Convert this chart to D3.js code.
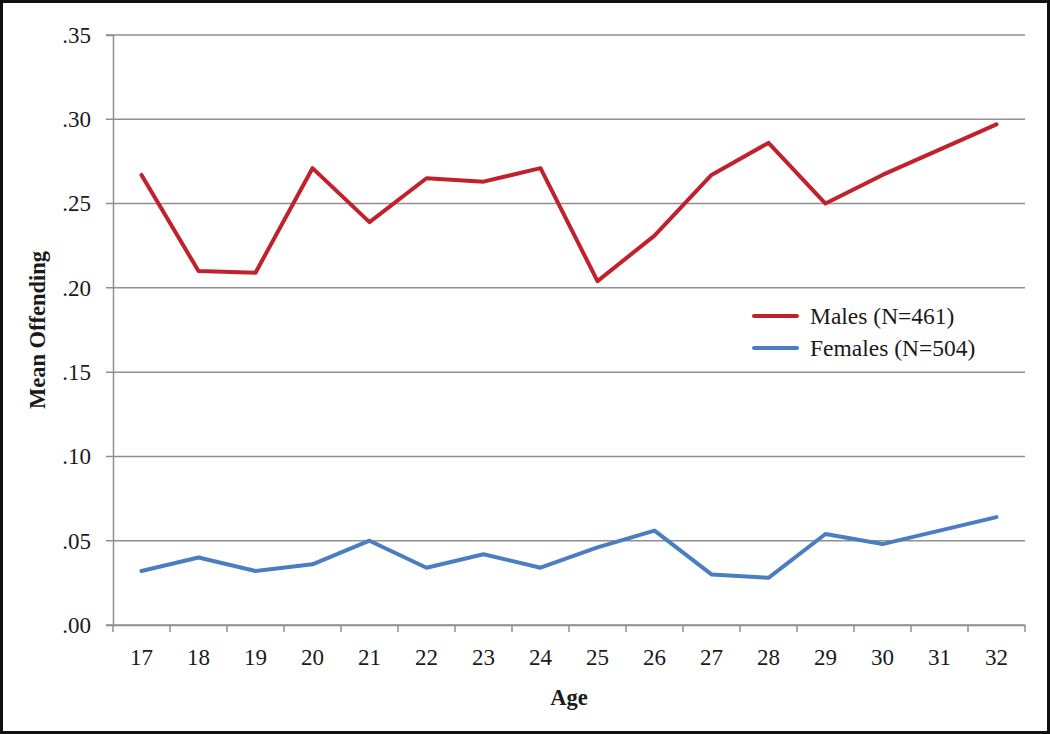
<!DOCTYPE html>
<meta charset="utf-8">
<html>
<head>
    <title>Mean Offending by Age</title>
    <script src="https://d3js.org/d3.v7.min.js"></script>
    <style>
        body { margin: 0; background: #fff; }
        text { font-family: "Liberation Serif", "Times New Roman", serif; fill: #1a1a1a; }
    </style>
</head>
<body>

    <div id="chart"></div>

    <script type="text/javascript">

        // ages on the x axis
        var ages = ["17", "18", "19", "20", "21", "22", "23", "24", "25", "26", "27", "28", "29", "30", "31", "32"];
        var males = [0.267, 0.210, 0.209, 0.271, 0.239, 0.265, 0.263, 0.271, 0.204, 0.231, 0.267, 0.286, 0.250, 0.267, 0.282, 0.297];
        var females = [0.032, 0.040, 0.032, 0.036, 0.050, 0.034, 0.042, 0.034, 0.046, 0.056, 0.030, 0.028, 0.054, 0.048, 0.056, 0.064];
        var yTicks = [0, 0.05, 0.10, 0.15, 0.20, 0.25, 0.30, 0.35];
        var seriesNames = ["Males (N=461)", "Females (N=504)"];
        var seriesColors = ["#c1212a", "#4a7ec0"];

        var W = 1050, H = 734;
        var margin = { top: 35, right: 25, bottom: 109, left: 113 },
          width = W - margin.left - margin.right,
          height = H - margin.top - margin.bottom;

        var svg = d3.select("#chart").append("svg")
          .attr("width", W)
          .attr("height", H);

        // outer frame
        svg.append("rect")
          .attr("x", 1.5).attr("y", 1.5)
          .attr("width", W - 3).attr("height", H - 3)
          .style("fill", "none")
          .style("stroke", "#111")
          .style("stroke-width", 3);

        var g = svg.append("g")
          .attr("transform", "translate(" + margin.left + "," + margin.top + ")");

        var x = d3.scaleBand().domain(ages).range([0, width]);
        var y = d3.scaleLinear().domain([0, 0.35]).range([height, 0]);

        // horizontal grid lines, also forming the left tick marks
        g.selectAll(".grid")
          .data(yTicks)
          .enter().append("line")
            .attr("x1", -7)
            .attr("x2", width)
            .attr("y1", function (d) { return y(d); })
            .attr("y2", function (d) { return y(d); })
            .style("stroke", "#8f8f8f")
            .style("stroke-width", 1.5);

        // y axis
        var yAxis = g.append("g")
          .call(d3.axisLeft(y).tickValues(yTicks).tickSize(7).tickPadding(15)
            .tickFormat(function (d) { return d3.format(".2f")(d).replace(/^0/, ""); }));
        yAxis.select(".domain").style("stroke", "#8f8f8f").style("stroke-width", 1.5);
        yAxis.selectAll(".tick line").remove();
        yAxis.selectAll("text")
          .style("font-size", "23px")
          .style("font-family", "Liberation Serif, serif")
          .style("fill", "#1a1a1a");

        // x axis with ticks between categories
        var xAxis = g.append("g")
          .attr("transform", "translate(0," + height + ")")
          .call(d3.axisBottom(x).tickSize(0).tickPadding(24));
        xAxis.select(".domain").style("stroke", "#8f8f8f").style("stroke-width", 1.5);
        xAxis.selectAll("text")
          .style("font-size", "23px")
          .style("font-family", "Liberation Serif, serif")
          .style("fill", "#1a1a1a");
        xAxis.selectAll(".sep")
          .data(d3.range(ages.length + 1))
          .enter().append("line")
            .attr("x1", function (i) { return i * x.step(); })
            .attr("x2", function (i) { return i * x.step(); })
            .attr("y1", 0)
            .attr("y2", 7)
            .style("stroke", "#8f8f8f")
            .style("stroke-width", 1.5);

        // lines
        var line = d3.line()
          .x(function (d, i) { return x(ages[i]) + x.bandwidth() / 2; })
          .y(function (d) { return y(d); });

        [males, females].forEach(function (s, k) {
          g.append("path")
            .datum(s)
            .attr("d", line)
            .style("fill", "none")
            .style("stroke", seriesColors[k])
            .style("stroke-width", 4)
            .style("stroke-linejoin", "round")
            .style("stroke-linecap", "round");
        });

        // axis titles
        svg.append("text")
          .attr("x", margin.left + width / 2)
          .attr("y", 705)
          .style("text-anchor", "middle")
          .style("font-weight", "bold")
          .style("font-size", "22.5px")
          .text("Age");

        svg.append("text")
          .attr("transform", "translate(45," + (margin.top + height / 2) + ") rotate(-90)")
          .style("text-anchor", "middle")
          .style("font-weight", "bold")
          .style("font-size", "22.5px")
          .text("Mean Offending");

        // legend
        var legend = svg.selectAll(".legend")
          .data(seriesNames)
          .enter().append("g")
            .attr("class", "legend")
            .attr("transform", function (d, i) { return "translate(754," + (316 + i * 32) + ")"; });

        legend.append("line")
          .attr("x1", 0).attr("x2", 43)
          .style("stroke", function (d, i) { return seriesColors[i]; })
          .style("stroke-width", 4)
          .style("stroke-linecap", "round");

        legend.append("text")
          .attr("x", 56)
          .attr("y", 8)
          .style("font-size", "23.5px")
          .text(function (d) { return d; });

    </script>

</body>
</html>
